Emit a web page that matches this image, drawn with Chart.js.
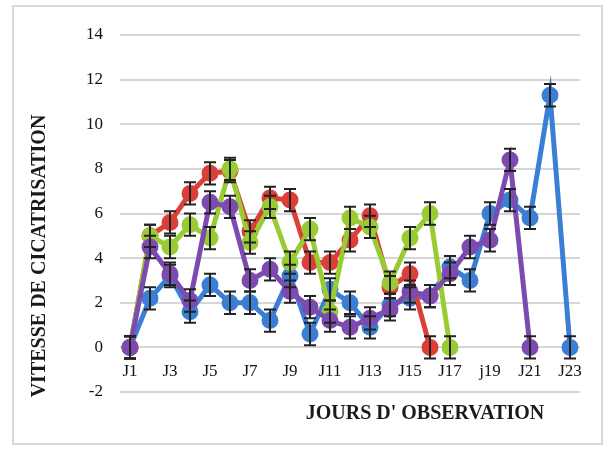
<!DOCTYPE html>
<html>
<head>
<meta charset="utf-8">
<script src="https://cdn.jsdelivr.net/npm/chart.js@4.4.1/dist/chart.umd.min.js"></script>
<style>
  html, body { margin: 0; padding: 0; background: #ffffff; }
  #wrap { width: 609px; height: 450px; }
</style>
</head>
<body>
<div id="wrap"><canvas id="c" width="609" height="450"></canvas></div>
<script>
// Observation days
const days = ['J1','J2','J3','J4','J5','J6','J7','J8','J9','J10','J11','J12',
              'J13','J14','J15','J16','J17','J18','j19','J20','J21','J22','J23'];

// Healing speed per group (one value per day, series stop at their last day)
const redSeries    = [0, 5.0, 5.6, 6.9, 7.8, 7.9, 5.2, 6.7, 6.6, 3.8, 3.8, 4.8, 5.9, 2.7, 3.3, 0];
const greenSeries  = [0, 5.0, 4.5, 5.5, 4.9, 8.0, 4.7, 6.3, 3.8, 5.3, 1.6, 5.8, 5.4, 2.9, 4.9, 6.0, 0];
const purpleSeries = [0, 4.5, 3.3, 2.1, 6.5, 6.3, 3.0, 3.5, 2.5, 1.8, 1.2, 0.9, 1.3, 1.7, 2.5, 2.3,
                      3.3, 4.5, 4.8, 8.4, 0];
const blueSeries   = [0, 2.2, 3.2, 1.6, 2.8, 2.0, 2.0, 1.2, 3.2, 0.6, 2.6, 2.0, 0.9, 1.9, 2.2, 2.3,
                      3.6, 3.0, 6.0, 6.6, 5.8, 11.3, 0];

// Error margin (±) shown on each point of a group
const redError = 0.5, greenError = 0.5, purpleError = 0.5, blueError = 0.5;

// Value axis ticks
const yTicks = [-2, 0, 2, 4, 6, 8, 10, 12, 14];

const SERIF = "'Liberation Serif', 'DejaVu Serif', serif";

function lineSet(data, color, err) {
  return {
    data: data,
    borderColor: color,
    backgroundColor: color,
    pointBackgroundColor: color,
    pointBorderColor: color,
    borderWidth: 5,
    pointRadius: 6,
    pointHoverRadius: 6,
    tension: 0,
    errorMargin: err
  };
}

// Vertical error bars with caps, drawn on top of the lines
const errorBars = {
  id: 'errorBars',
  afterDatasetsDraw(chart) {
    const ctx = chart.ctx;
    const y = chart.scales.y;
    ctx.save();
    ctx.strokeStyle = '#222222';
    ctx.lineWidth = 2;
    chart.data.datasets.forEach((ds, i) => {
      const meta = chart.getDatasetMeta(i);
      meta.data.forEach((pt, j) => {
        const v = ds.data[j];
        const e = ds.errorMargin;
        const top = y.getPixelForValue(v + e);
        const bot = y.getPixelForValue(v - e);
        const x = pt.x;
        ctx.beginPath();
        ctx.moveTo(x, top); ctx.lineTo(x, bot);
        ctx.moveTo(x - 6, top); ctx.lineTo(x + 6, top);
        ctx.moveTo(x - 6, bot); ctx.lineTo(x + 6, bot);
        ctx.stroke();
      });
    });
    ctx.restore();
  }
};

// Frame and axis titles
const decorations = {
  id: 'decorations',
  beforeDraw(chart) {
    const ctx = chart.ctx;
    ctx.save();
    ctx.fillStyle = '#ffffff';
    ctx.fillRect(0, 0, chart.width, chart.height);
    ctx.strokeStyle = '#d9d9d9';
    ctx.lineWidth = 2;
    ctx.strokeRect(13, 6, 589, 438);
    ctx.restore();
  },
  afterDraw(chart) {
    const ctx = chart.ctx;
    const a = chart.chartArea;
    ctx.save();
    ctx.fillStyle = '#1a1a1a';
    ctx.font = "bold 20px " + SERIF;
    ctx.textAlign = 'center';
    ctx.textBaseline = 'middle';
    ctx.fillText("JOURS D' OBSERVATION", a.left + 305, a.bottom + 22);
    ctx.translate(40, a.top + 221);
    ctx.rotate(-Math.PI / 2);
    ctx.fillText('VITESSE DE CICATRISATION', 0, 0);
    ctx.restore();
  }
};

new Chart(document.getElementById('c'), {
  type: 'line',
  data: {
    labels: days,
    // purple drawn on top, then green, red, blue underneath
    datasets: [
      lineSet(purpleSeries, '#7d4bb0', purpleError),
      lineSet(greenSeries,  '#99cc33', greenError),
      lineSet(redSeries,    '#dc3f38', redError),
      lineSet(blueSeries,   '#3b7fd4', blueError)
    ]
  },
  options: {
    responsive: false,
    animation: false,
    layout: { padding: { left: 0, right: 29, top: 35, bottom: 58 } },
    plugins: { legend: { display: false }, tooltip: { enabled: false } },
    scales: {
      x: {
        type: 'category',
        offset: true,
        position: { y: 0 },
        grid: { display: false, drawTicks: false },
        border: { display: false },
        ticks: {
          autoSkip: false,
          maxRotation: 0,
          padding: 14,
          color: '#111111',
          font: { family: SERIF, size: 17 },
          callback: function (val, idx) { return idx % 2 === 0 ? days[idx] : ''; }
        }
      },
      y: {
        min: yTicks[0],
        max: yTicks[yTicks.length - 1],
        afterBuildTicks: (scale) => { scale.ticks = yTicks.map(v => ({ value: v })); },
        afterFit: (scale) => { scale.width = 120; },
        grid: { color: '#d6d6d6', lineWidth: 2, drawTicks: false },
        border: { display: false },
        ticks: {
          padding: 17,
          color: '#111111',
          font: { family: SERIF, size: 17 }
        }
      }
    }
  },
  plugins: [decorations, errorBars]
});
</script>
</body>
</html>
